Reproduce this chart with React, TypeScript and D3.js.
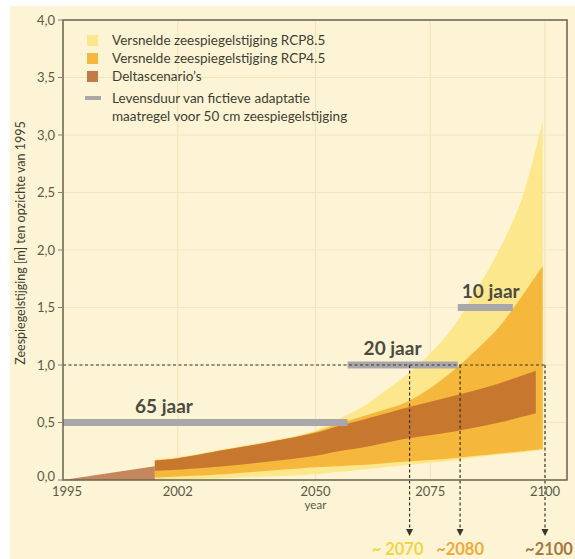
import React from "react";
import * as d3 from "d3";

// ---------- data ----------
const rcpYears = [2015, 2020, 2030, 2040, 2050, 2055, 2060, 2065, 2070, 2075, 2080, 2085, 2090, 2095, 2099.5];
const rcp85Lower = [0.0, 0.005, 0.015, 0.03, 0.05, 0.07, 0.09, 0.11, 0.13, 0.15, 0.17, 0.2, 0.22, 0.24, 0.26];
const rcp85Upper = [0.18, 0.2, 0.27, 0.34, 0.43, 0.53, 0.63, 0.77, 0.92, 1.1, 1.33, 1.65, 2.0, 2.45, 3.12];
const rcp45Lower = [0.02, 0.03, 0.05, 0.08, 0.11, 0.12, 0.13, 0.145, 0.16, 0.175, 0.19, 0.21, 0.23, 0.25, 0.27];
const rcp45Upper = [0.17, 0.19, 0.26, 0.33, 0.42, 0.49, 0.55, 0.61, 0.68, 0.8, 0.95, 1.13, 1.33, 1.6, 1.86];

const deltaStartYears = [1995, 2015];
const deltaStartLower = [0, 0];
const deltaStartUpper = [0, 0.12];

const deltaYears = [2015, 2020, 2030, 2040, 2050, 2055, 2060, 2070, 2080, 2090, 2098];
const deltaUpper = [0.17, 0.19, 0.26, 0.33, 0.41, 0.47, 0.52, 0.63, 0.73, 0.84, 0.95];
const deltaLower = [0.08, 0.09, 0.12, 0.16, 0.21, 0.25, 0.28, 0.36, 0.42, 0.5, 0.58];

const barLabels = ["65 jaar", "20 jaar", "10 jaar"];
const barStart = [1995, 2057, 2081];
const barEnd = [2057, 2081, 2093];
const barLevel = [0.5, 1.0, 1.5];

const crossYears = [2070.5, 2081.5, 2100];
const crossLabels = ["~ 2070", "~2080", "~2100"];

const xTickValues = [1995, 2020, 2050, 2075, 2100];
const xTickLabels = ["1995", "2002", "2050", "2075", "2100"];
const yTickValues = [0, 0.5, 1, 1.5, 2, 2.5, 3, 3.5, 4];

const legendLabels = [
  "Versnelde zeespiegelstijging RCP8.5",
  "Versnelde zeespiegelstijging RCP4.5",
  "Deltascenario\u2019s",
];
const legendBarLabel = ["Levensduur van fictieve adaptatie", "maatregel voor 50 cm zeespiegelstijging"];

// ---------- style ----------
const FONT = "Lato, 'Noto Sans', sans-serif";
const C = {
  bg: "#fdf4d5",
  frame: "#6e6b55",
  grid: "#f0e5bd",
  text: "#3f3e33",
  tick: "#5b5a48",
  rcp85: "#fde78c",
  rcp45: "#f6b83c",
  delta: "#c8772f",
  deltaStart: "#c4875c",
  bar: "#aaa7aa",
  dash: "#3a3528",
};
const crossColors = ["#f4d443", "#f0aa3a", "#a8773f"];
const crossLabelDx = [-12, 0, 4];
const barLabelDx = [72, 16, 4];

export default function App() {
  const W = 575, H = 559;
  const left = 63, top = 20, frameRight = 567, bottom = 480;
  const x = d3.scaleLinear().domain([1995, 2100]).range([left, 545]);
  const y = d3.scaleLinear().domain([0, 4]).range([bottom, top]);

  const mkArea = (years: number[], lo: number[], hi: number[]) =>
    d3
      .area<number>()
      .x((_, i) => x(years[i]))
      .y0((_, i) => y(lo[i]))
      .y1((_, i) => y(hi[i]))
      .curve(d3.curveCatmullRom.alpha(0.5))(years) || "";

  const fmt = (v: number) => d3.format(".1f")(v).replace(".", ",");

  const arrowTip = 536;

  return (
    <svg
      width={W}
      height={H}
      style={{ position: "absolute", left: 0, top: 0, background: "#fff" }}
      fontFamily={FONT}
    >
      <rect x={10} y={6} width={W - 10} height={H - 6} fill={C.bg} />

      {/* grid */}
      {yTickValues.slice(1, -1).map((v) => (
        <line key={"gy" + v} x1={left} x2={frameRight} y1={y(v)} y2={y(v)} stroke={C.grid} strokeWidth={1.2} />
      ))}
      {xTickValues.slice(1).map((v) => (
        <line key={"gx" + v} x1={x(v)} x2={x(v)} y1={top} y2={bottom} stroke={C.grid} strokeWidth={1.2} />
      ))}

      {/* bands */}
      <path d={mkArea(rcpYears, rcp85Lower, rcp85Upper)} fill={C.rcp85} />
      <path d={mkArea(rcpYears, rcp45Lower, rcp45Upper)} fill={C.rcp45} />
      <path d={mkArea(deltaStartYears, deltaStartLower, deltaStartUpper)} fill={C.deltaStart} />
      <path d={mkArea(deltaYears, deltaLower, deltaUpper)} fill={C.delta} />

      {/* bars */}
      {barLabels.map((lab, i) => (
        <g key={lab}>
          <rect
            x={x(barStart[i])}
            y={y(barLevel[i]) - 3.5}
            width={x(barEnd[i]) - x(barStart[i])}
            height={7}
            fill={C.bar}
          />
          <text
            x={x(barStart[i]) + barLabelDx[i]}
            y={y(barLevel[i]) - 10}
            fontSize={19}
            fontWeight={700}
            fill="#4b4a42"
          >
            {lab}
          </text>
        </g>
      ))}

      {/* dashed reference lines */}
      <line x1={left} x2={x(2100)} y1={y(1)} y2={y(1)} stroke={C.dash} strokeWidth={1} strokeDasharray="3,2.5" />
      {crossYears.map((yr, i) => (
        <g key={"c" + yr}>
          <line x1={x(yr)} x2={x(yr)} y1={y(1)} y2={arrowTip - 5} stroke={C.dash} strokeWidth={1.2} strokeDasharray="3,2.5" />
          <path
            d={`M${x(yr) - 3.5},${arrowTip - 7} L${x(yr) + 3.5},${arrowTip - 7} L${x(yr)},${arrowTip} Z`}
            fill={C.dash}
          />
          <text
            x={x(yr) + crossLabelDx[i]}
            y={555}
            textAnchor="middle"
            fontSize={16.5}
            fontWeight={700}
            fill={crossColors[i]}
          >
            {crossLabels[i]}
          </text>
        </g>
      ))}

      {/* frame */}
      <rect x={left} y={top} width={frameRight - left} height={bottom - top} fill="none" stroke={C.frame} strokeWidth={1.6} />

      {/* y ticks */}
      {yTickValues.map((v) => (
        <g key={"yt" + v}>
          <line x1={58} x2={left} y1={y(v)} y2={y(v)} stroke="#8a8670" strokeWidth={1} />
          <text
            x={55}
            y={y(v) - (v === 0 ? 4 : 0)}
            dy="0.35em"
            textAnchor="end"
            fontSize={13}
            fill={C.tick}
          >
            {fmt(v)}
          </text>
        </g>
      ))}

      {/* x ticks */}
      {xTickValues.map((v, i) => (
        <text key={"xt" + v} x={x(v) + (i === 0 ? 4 : 0)} y={496} textAnchor="middle" fontSize={13} fill={C.tick}>
          {xTickLabels[i]}
        </text>
      ))}
      <text x={x(2050)} y={509} textAnchor="middle" fontSize={11.5} fill={C.tick}>
        year
      </text>

      {/* y title */}
      <text
        transform={`translate(25,${243}) rotate(-90)`}
        textAnchor="middle"
        fontSize={12.5}
        fill={C.text}
      >
        Zeespiegelstijging [m] ten opzichte van 1995
      </text>

      {/* legend */}
      {legendLabels.map((lab, i) => {
        const cy = 40 + i * 18;
        const col = [C.rcp85, C.rcp45, "#c27a48"][i];
        return (
          <g key={lab}>
            <rect x={87} y={cy - 5} width={11} height={11} fill={col} />
            <text x={112} y={cy} dy="0.35em" fontSize={13.5} fill={C.text}>
              {lab}
            </text>
          </g>
        );
      })}
      <rect x={85} y={96} width={16} height={4} fill={C.bar} />
      {legendBarLabel.map((t, i) => (
        <text key={t} x={112} y={98 + i * 18} dy="0.35em" fontSize={13.5} fill={C.text}>
          {t}
        </text>
      ))}
    </svg>
  );
}
